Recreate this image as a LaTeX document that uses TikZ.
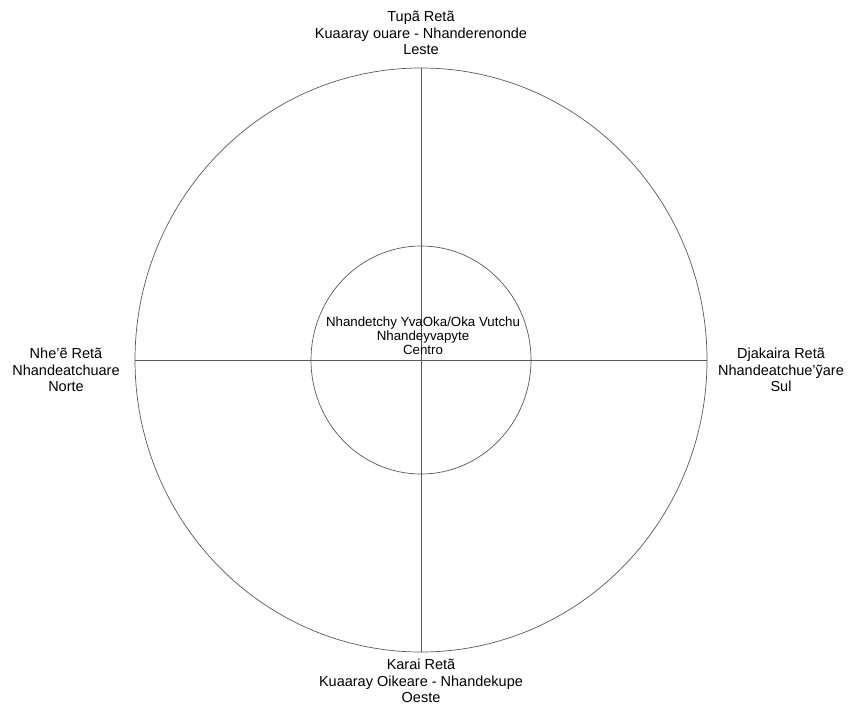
\documentclass[tikz,border=0pt]{standalone}
\usepackage{fontspec}
\setmainfont{Liberation Sans}
\begin{document}
\begin{tikzpicture}[x=1pt,y=-1pt,
    ring/.style={draw=black!65, line width=0.7pt},
    axis/.style={draw=black!65, line width=0.7pt},
    quarter/.style={align=center, inner sep=0pt, font=\fontsize{14.5}{16.2}\selectfont},
    hub/.style={align=center, inner sep=0pt, font=\fontsize{13.3}{14.2}\selectfont}]
  \useasboundingbox (0,0) rectangle (848,707);
  \coordinate (c) at (421,360);
  \coordinate (n) at (421,68);
  \coordinate (s) at (421,652);
  \coordinate (w) at (135,360);
  \coordinate (e) at (707,360);
  \draw[ring] (c) ellipse [x radius=286, y radius=292];
  \draw[ring] (c) ellipse [x radius=110, y radius=114];
  \draw[axis] (n) -- (s);
  \draw[axis] (w) -- (e);
  \node[quarter] (leste) at (421,33) {Tupã Retã\\Kuaaray ouare - Nhanderenonde\\Leste};
  \node[quarter] (oeste) at (421,681) {Karai Retã\\Kuaaray Oikeare - Nhandekupe\\Oeste};
  \node[quarter] (norte) at (66,370) {Nhe’ẽ Retã\\Nhandeatchuare\\Norte};
  \node[quarter] (sul) at (781,370) {Djakaira Retã\\Nhandeatchue’ỹare\\Sul};
  \node[hub] (centro) at (423,336) {Nhandetchy YvaOka/Oka Vutchu\\Nhandeyvapyte\\Centro};
\end{tikzpicture}
\end{document}
